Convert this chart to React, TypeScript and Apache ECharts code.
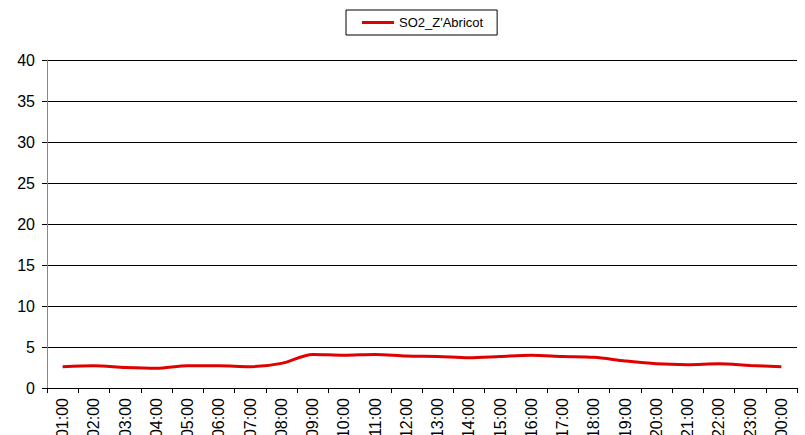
import React, { useEffect, useRef } from "react";
import * as echarts from "echarts";

const hours = ["01:00","02:00","03:00","04:00","05:00","06:00","07:00","08:00","09:00","10:00","11:00","12:00","13:00","14:00","15:00","16:00","17:00","18:00","19:00","20:00","21:00","22:00","23:00","00:00"];
const so2 = [2.6,2.7,2.5,2.4,2.7,2.7,2.6,3.0,4.1,4.0,4.1,3.9,3.85,3.7,3.85,4.0,3.85,3.75,3.3,2.95,2.85,2.95,2.75,2.6];
const seriesName = "SO2_Z'Abricot";

export default function App() {
  const ref = useRef<HTMLDivElement>(null);
  useEffect(() => {
    const chart = echarts.init(ref.current!, null, { renderer: "svg" });
    chart.setOption({
      animation: false,
      backgroundColor: "#fff",
      textStyle: { fontFamily: "Liberation Sans, Arial, sans-serif" },
      legend: {
        data: [seriesName],
        top: 10,
        left: 346,
        borderColor: "#000",
        borderWidth: 1,
        padding: [6, 14, 6, 16],
        icon: "rect",
        itemWidth: 32,
        itemHeight: 3,
        itemGap: 8,
        textStyle: { fontSize: 13, color: "#000", fontFamily: "Liberation Sans, Arial, sans-serif" },
      },
      grid: { left: 47, right: 8, top: 60, bottom: 47, containLabel: false, outerBoundsMode: "none" },
      xAxis: {
        type: "category",
        data: hours,
        boundaryGap: true,
        axisLine: { lineStyle: { color: "#000", width: 1 } },
        axisTick: { show: true, length: 5, lineStyle: { color: "#000" }, alignWithLabel: false },
        axisLabel: { rotate: 90, fontSize: 16, color: "#000", margin: 10, interval: 0 },
      },
      yAxis: {
        type: "value",
        min: 0,
        max: 40,
        interval: 5,
        axisLine: { show: true, lineStyle: { color: "#888", width: 1 } },
        axisTick: { show: true, length: 5, lineStyle: { color: "#000" } },
        axisLabel: { fontSize: 16, color: "#000", margin: 12 },
        splitLine: { show: true, lineStyle: { color: "#000", width: 1 } },
      },
      series: [
        {
          name: seriesName,
          type: "line",
          data: so2,
          symbol: "none",
          smooth: 0.3,
          lineStyle: { color: "#e00000", width: 3 },
          itemStyle: { color: "#e00000" },
        },
      ],
    });
    return () => chart.dispose();
  }, []);
  return <div ref={ref} style={{ width: 805, height: 435, position: "absolute", left: 0, top: 0 }} />;
}
